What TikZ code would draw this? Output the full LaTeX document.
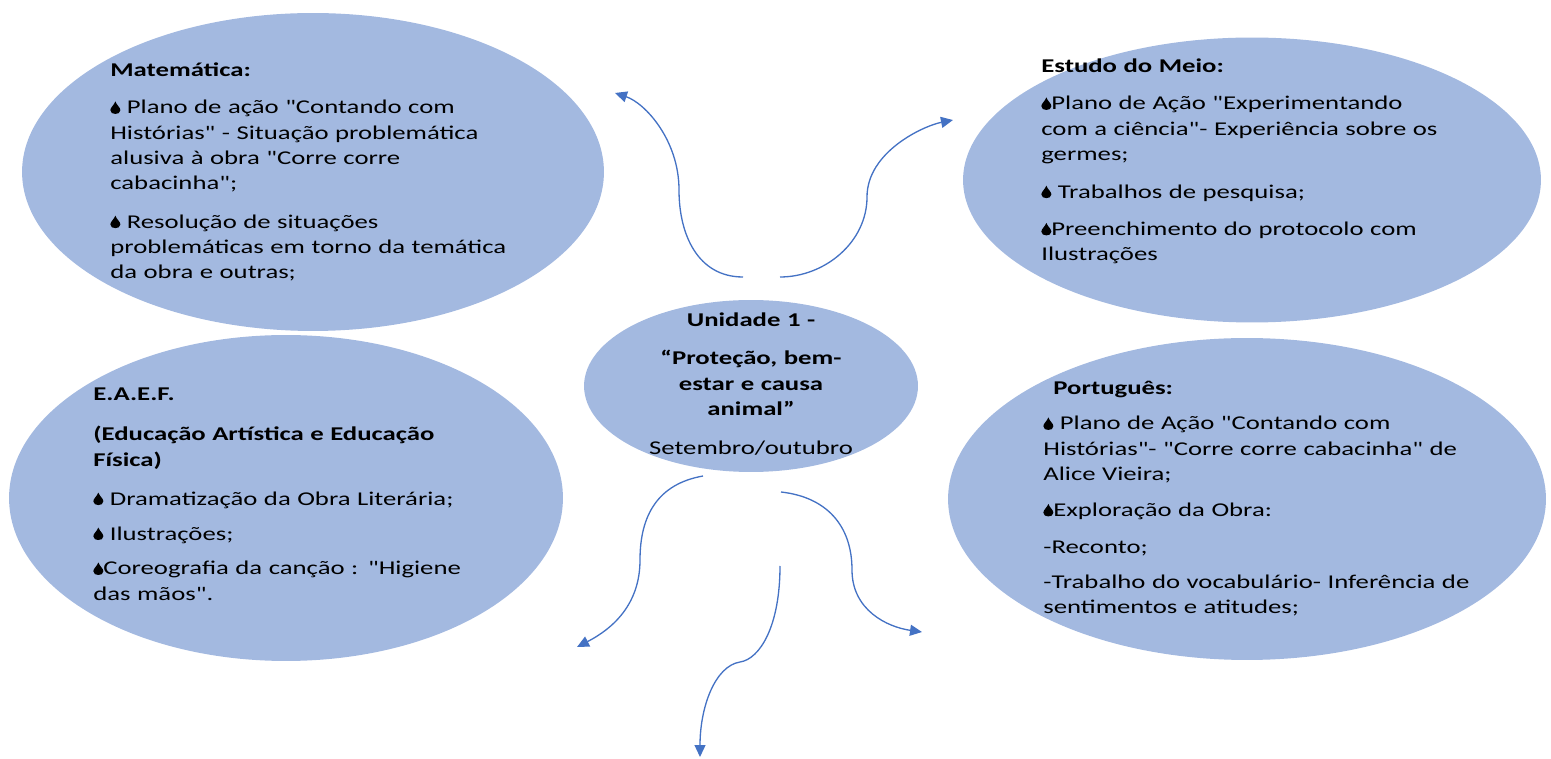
\documentclass[tikz,border=0pt]{standalone}
\usepackage{fontspec}
\setmainfont{Carlito}[FakeStretch=1.37,Ligatures=TeXOff]
\usetikzlibrary{arrows.meta,shapes.geometric}

\definecolor{bolha}{HTML}{A3B9E0}
\definecolor{seta}{HTML}{4472C4}

% small black drop used as bullet
\newcommand{\gota}{\tikz[baseline=0pt,x=1cm,y=1cm]\fill[black] (0,0.25) .. controls (-0.03,0.17) and (-0.1,0.13) .. (-0.1,0.075) .. controls (-0.1,0.02) and (-0.05,0) .. (0,0) .. controls (0.05,0) and (0.1,0.02) .. (0.1,0.075) .. controls (0.1,0.13) and (0.03,0.17) .. (0,0.25) -- cycle;}

\begin{document}
\begin{tikzpicture}[
    x = 0.02cm, y = -0.02cm, % pixel units, y down
    bolha/.style = {ellipse, fill = bolha, draw = none, inner sep = 0pt},
    texto/.style = {anchor = base west, text width = 11cm, align = left, inner sep = 0pt,
        font = \fontsize{11.1}{14.4}\selectfont},
    seta/.style = {draw = seta, line width = 0.75pt, -{Triangle[length=0.24cm,width=0.22cm]}}
    ]
    \useasboundingbox (0,0) rectangle (1551,759);

    % ellipses
    \node[bolha, minimum width = 11.64cm, minimum height = 6.36cm] (mat) at (313,172) {};
    \node[bolha, minimum width = 11.56cm, minimum height = 5.7cm] (est) at (1252,180) {};
    \node[bolha, minimum width = 6.68cm, minimum height = 3.44cm] (uni) at (751,386) {};
    \node[bolha, minimum width = 11.08cm, minimum height = 6.52cm] (eaef) at (286,498) {};
    \node[bolha, minimum width = 11.96cm, minimum height = 6.44cm] (port) at (1247,499) {};

    % texts
    \node[texto] (matTxt) at (110,76.7) {\textbf{Matemática:}\\[6.8pt]
        \gota{} Plano de ação "Contando com\\
        Histórias" - Situação problemática\\
        alusiva à obra "Corre corre\\
        cabacinha";\\[7.4pt]
        \gota{} Resolução de situações\\
        problemáticas em torno da temática\\
        da obra e outras;};
    \node[texto] (estTxt) at (1041,72.7) {\textbf{Estudo do Meio:}\\[6.8pt]
        \gota{}Plano de Ação "Experimentando\\
        com a ciência"- Experiência sobre os\\
        germes;\\[7pt]
        \gota{} Trabalhos de pesquisa;\\[6.8pt]
        \gota{}Preenchimento do protocolo com\\
        Ilustrações};
    \node[texto, anchor = base, text width = 6cm, align = center] (uniTxt) at (751,326.7) {\textbf{Unidade 1 -}\\[7.4pt]
        \textbf{“Proteção, bem-}\\
        \textbf{estar e causa}\\
        \textbf{animal”}\\[7.8pt]
        Setembro/outubro};
    \node[texto] (eaefTxt) at (93,400.7) {\textbf{E.A.E.F.}\\[8.4pt]
        \textbf{(Educação Artística e Educação}\\
        \textbf{Física)}\\[7.8pt]
        \gota{} Dramatização da Obra Literária;\\[5.5pt]
        \gota{} Ilustrações;\\[5.5pt]
        \gota{}Coreografia da canção : "Higiene\\
        das mãos".};
    \node[texto] (portTxt) at (1043,395) {\hspace*{0.2cm}\textbf{Português:}\\[5.5pt]
        \gota{} Plano de Ação "Contando com\\
        Histórias"- "Corre corre cabacinha" de\\
        Alice Vieira;\\[6pt]
        \gota{}Exploração da Obra:\\[6.6pt]
        -Reconto;\\[5.5pt]
        -Trabalho do vocabulário- Inferência de\\
        sentimentos e atitudes;};

    % arrow ends
    \coordinate (tlA) at (743,277);
    \coordinate (tlM) at (679,190);
    \coordinate (tlB) at (615,93);
    \coordinate (trA) at (780,277);
    \coordinate (trM) at (867,197);
    \coordinate (trB) at (953,120);
    \coordinate (blA) at (703,476);
    \coordinate (blM) at (640,560);
    \coordinate (blB) at (577,647);
    \coordinate (brA) at (781,492);
    \coordinate (brM) at (852,570);
    \coordinate (brB) at (922,632);
    \coordinate (bmA) at (780,566);
    \coordinate (bmM) at (740,662);
    \coordinate (bmB) at (700,757);

    \draw[seta] (tlA) .. controls +(-45,0) and +(0,45) .. (tlM) .. controls +(0,-50) and +(30,10) .. (tlB);
    \draw[seta] (trA) .. controls +(45,0) and +(0,45) .. (trM) .. controls +(0,-45) and +(-30,6) .. (trB);
    \draw[seta] (blA) .. controls +(-45,8) and +(0,-45) .. (blM) .. controls +(0,45) and +(35,-18) .. (blB);
    \draw[seta] (brA) .. controls +(45,5) and +(0,-45) .. (brM) .. controls +(0,40) and +(-35,-5) .. (brB);
    \draw[seta] (bmA) .. controls +(0,60) and +(20,-3) .. (bmM) .. controls +(-25,4) and +(0,-50) .. (bmB);
\end{tikzpicture}
\end{document}
